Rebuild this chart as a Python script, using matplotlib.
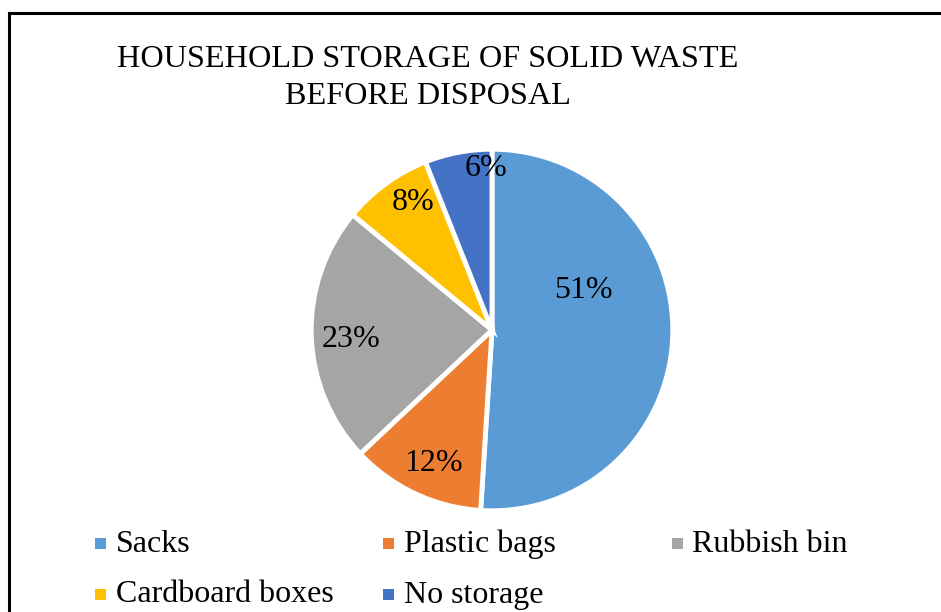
import matplotlib.pyplot as plt
from matplotlib.patches import Rectangle
from matplotlib.lines import Line2D

categories = ['Sacks', 'Plastic bags', 'Rubbish bin', 'Cardboard boxes', 'No storage']
shares = [51, 12, 23, 8, 6]
colors = ['#5B9BD5', '#ED7D31', '#A5A5A5', '#FFC000', '#4472C4']
title_lines = ['HOUSEHOLD STORAGE OF SOLID WASTE', 'BEFORE DISPOSAL']

# label baselines (pie units), placed like the original rather than on the mid angle
label_pos = [(0.511, 0.179), (-0.324, -0.788), (-0.788, -0.095), (-0.441, 0.670), (-0.034, 0.860)]

plt.rcParams['font.family'] = ['Liberation Serif', 'DejaVu Serif']

W, H = 941, 612
fig = plt.figure(figsize=(W / 100, H / 100), dpi=100)

# frame (only top and left fall inside the picture)
fig.add_artist(Line2D([8.5 / W, 1.0], [1 - 12.5 / H, 1 - 12.5 / H], color='black', lw=2.2))
fig.add_artist(Line2D([8.5 / W, 8.5 / W], [0.0, 1 - 12.5 / H], color='black', lw=2.2))

cx, cy, r = 492, 330, 179
ax = fig.add_axes([(cx - r) / W, (H - cy - r) / H, 2 * r / W, 2 * r / H])
ax.pie(shares, colors=colors, startangle=90, counterclock=False, radius=1.01,
       wedgeprops=dict(edgecolor='white', linewidth=3.5))
ax.set_xlim(-1, 1)
ax.set_ylim(-1, 1)
ax.set_aspect('equal')
ax.axis('off')

for (x, y), v in zip(label_pos, shares):
    ax.text(x, y, f'{v}%', ha='center', va='baseline', fontsize=23, color='black')

fig.text(428 / W, 1 - 67 / H, title_lines[0], ha='center', va='baseline', fontsize=23.2)
fig.text(428 / W, 1 - 104 / H, title_lines[1], ha='center', va='baseline', fontsize=23.2)

# legend with fixed-width columns
col_x = [100.5, 388, 677]
row_y = [543.5, 594]
for i, (name, c) in enumerate(zip(categories, colors)):
    px = col_x[i % 3]
    py = row_y[i // 3]
    fig.add_artist(Rectangle(((px - 5.5) / W, 1 - (py + 5.5) / H), 11 / W, 11 / H,
                             facecolor=c, edgecolor='none', transform=fig.transFigure))
    fig.text((px + 15.5) / W, 1 - (py + 8.5) / H, name, ha='left', va='baseline', fontsize=23)

fig.savefig('out.png', dpi=100)
